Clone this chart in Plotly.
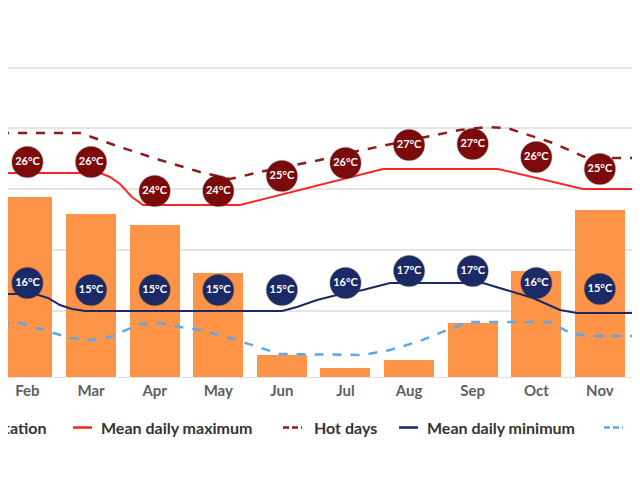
import plotly.graph_objects as go

# Monthly climate data (Jan..Dec), month index 0..11
months = ['Jan', 'Feb', 'Mar', 'Apr', 'May', 'Jun', 'Jul', 'Aug', 'Sep', 'Oct', 'Nov', 'Dec']
month_idx = list(range(12))

precip_mm = [156, 148, 134, 125, 85, 18, 7, 14, 44, 87, 137, 153]

# dot markers with rounded labels
max_dot_y = [27.0, 27.22, 27.22, 24.84, 24.84, 26.07, 27.14, 28.62, 28.70, 27.63, 26.65, 26.6]
max_labels = [26, 26, 26, 24, 24, 25, 26, 27, 27, 26, 25, 25]
min_dot_y = [17.2, 17.26, 16.69, 16.69, 16.69, 16.69, 17.26, 18.25, 18.25, 17.26, 16.77, 16.7]
min_labels = [16, 16, 15, 15, 15, 15, 16, 17, 17, 16, 15, 15]

# smoothed lines (fractional month index)
max_x = [0.568, 2.14, 2.297, 2.454, 2.643, 2.816, 4.341, 6.59, 8.398, 9.734, 10.76]
max_y = [26.32, 26.32, 25.99, 25.41, 24.34, 23.68, 23.68, 26.65, 26.65, 25.0, 25.0]

hot_x = [0.568, 1.825, 2.454, 3.083, 3.712, 4.184, 4.656, 5.599, 6.118, 7.014, 7.8, 8.225, 8.539, 9.263, 9.797, 10.76]
hot_y = [29.61, 29.61, 28.46, 27.39, 26.40, 25.82, 26.40, 27.39, 28.05, 29.03, 29.86, 30.10, 30.02, 28.79, 27.55, 27.55]

min_x = [0.568, 1.118, 1.322, 1.511, 1.70, 1.904, 5.002, 5.237, 5.552, 5.866, 6.275, 6.70, 8.162, 8.539, 8.948, 9.373, 9.64, 10.76]
min_y = [16.36, 16.36, 16.03, 15.45, 15.12, 14.96, 14.96, 15.29, 15.86, 16.28, 16.69, 17.26, 17.26, 16.69, 16.03, 15.04, 14.79, 14.79]

cold_x = [0.568, 0.882, 1.354, 1.668, 1.983, 2.297, 2.769, 3.083, 3.397, 3.712, 4.184, 4.656, 4.97, 6.275, 6.70, 7.171, 7.596, 7.91, 9.215, 9.53, 9.797, 10.76]
cold_y = [13.97, 13.97, 13.24, 12.74, 12.57, 12.82, 13.89, 13.97, 13.65, 13.40, 12.74, 11.91, 11.42, 11.34, 11.75, 12.49, 13.40, 14.05, 14.05, 13.15, 12.90, 12.90]

legend_names = ['Precipitation', 'Mean daily maximum', 'Hot days', 'Mean daily minimum', 'Cold nights']

RED, HOT, NAVY, COLD, ORANGE = '#ff2424', '#8e1a1a', '#1c2766', '#5ea6ee', '#fe9448'

fig = go.Figure()

# bars on the primary axis so that the temperature traces draw above them
fig.add_trace(go.Bar(
    x=month_idx, y=precip_mm, name=legend_names[0], yaxis='y',
    width=0.786, marker=dict(color=ORANGE, line=dict(width=0)),
))

fig.add_trace(go.Scatter(x=max_x, y=max_y, mode='lines', name=legend_names[1], yaxis='y2',
                         line=dict(color=RED, width=2)))
fig.add_trace(go.Scatter(x=hot_x, y=hot_y, mode='lines', name=legend_names[2], yaxis='y2',
                         line=dict(color=HOT, width=2.5, dash='dash')))
fig.add_trace(go.Scatter(x=min_x, y=min_y, mode='lines', name=legend_names[3], yaxis='y2',
                         line=dict(color=NAVY, width=2)))
fig.add_trace(go.Scatter(x=cold_x, y=cold_y, mode='lines', name=legend_names[4], yaxis='y2',
                         line=dict(color=COLD, width=2.5, dash='dash')))

for dot_y, labels, col in [(max_dot_y, max_labels, '#7c0a0a'), (min_dot_y, min_labels, '#1b2a66')]:
    fig.add_trace(go.Scatter(
        x=month_idx, y=dot_y, mode='markers+text', yaxis='y2', showlegend=False,
        text=[f'{v}°C' for v in labels], textposition='middle center',
        textfont=dict(color='white', size=11, family='Lato', weight='bold'),
        marker=dict(size=31, color=col, line=dict(width=1.5, color='rgba(60,60,60,0.25)')),
        hoverinfo='skip',
    ))

# hand-placed single-row legend (the original legend runs past both edges)
leg_y = -0.1369
lf = dict(size=16, color='#333', family='Lato', weight='bold')
fig.add_annotation(x=40 / 640, y=leg_y, xref='paper', yref='paper', text=legend_names[0],
                   showarrow=False, xanchor='right', yanchor='middle', font=lf)
items = [
    (legend_names[1], RED, 'solid', 65, 91),
    (legend_names[2], HOT, 'dash', 275, 304),
    (legend_names[3], NAVY, 'solid', 391, 417),
]
for name, col, dash, x0, tx in items:
    fig.add_shape(type='line', xref='paper', yref='paper',
                  x0=x0 / 640, x1=(x0 + 19) / 640, y0=leg_y, y1=leg_y,
                  line=dict(color=col, width=2.5, dash='solid' if dash == 'solid' else '6px,3px'))
    fig.add_annotation(x=tx / 640, y=leg_y, xref='paper', yref='paper', text=name,
                       showarrow=False, xanchor='left', yanchor='middle', font=lf)

# last item runs off the right edge
fig.add_shape(type='line', xref='paper', yref='paper',
              x0=596 / 640, x1=615 / 640, y0=leg_y, y1=leg_y,
              line=dict(color=COLD, width=2.5, dash='6px,3px'))
fig.add_annotation(x=(624 + 88) / 640, y=leg_y, xref='paper', yref='paper', text=legend_names[4],
                   showarrow=False, xanchor='right', yanchor='middle', font=lf)

fig.update_layout(
    width=640, height=480,
    margin=dict(l=0, r=0, t=0, b=111, autoexpand=False),
    plot_bgcolor='white', paper_bgcolor='white',
    font=dict(family='Lato', size=14, color='#333'),
    showlegend=False,
    xaxis=dict(
        range=[0.694, 10.756], tickvals=month_idx, ticktext=months,
        showgrid=False, zeroline=False, showline=True, linecolor='#e2e2e2', linewidth=1,
        tickfont=dict(size=15, color='#606060', family='Lato', weight='bold'), ticks='',
        automargin=False,
    ),
    yaxis=dict(
        range=[0, 302.6], showticklabels=False, showgrid=False, zeroline=False,
        automargin=False,
    ),
    yaxis2=dict(
        range=[9.527, 39.897], tickvals=[15, 20, 25, 30, 35], overlaying='y', side='left',
        showticklabels=False, showgrid=True, gridcolor='#e4e4e4', gridwidth=2,
        zeroline=False, automargin=False,
    ),
    bargap=0,
)

fig.write_html('out.html')
